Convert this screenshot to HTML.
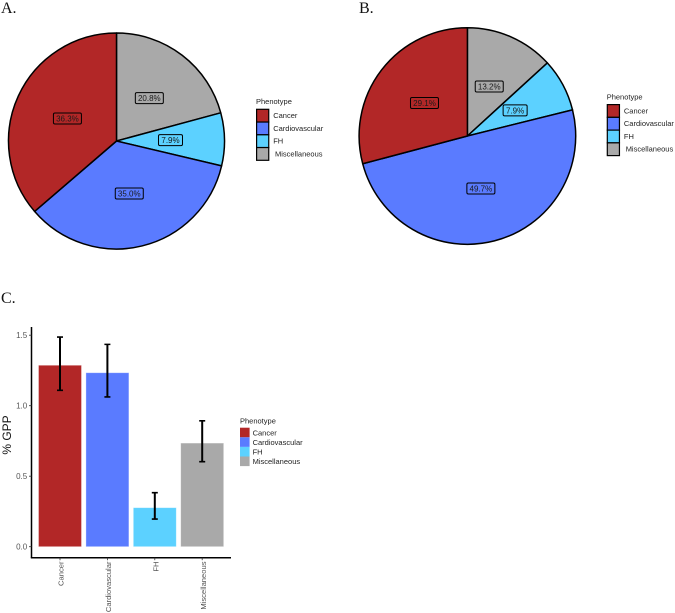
<!DOCTYPE html>
<html lang="en">
<head>
<meta charset="utf-8">
<title>Phenotype charts</title>
<style>
html,body{margin:0;padding:0;background:#fff;}
svg{display:block;filter:blur(0.25px);}
text{font-family:"Liberation Sans",sans-serif;}
.panel{font-family:"Liberation Serif",serif;font-size:16px;fill:#111;}
</style>
</head>
<body>
<svg id="figure" xmlns="http://www.w3.org/2000/svg" width="675" height="613" viewBox="0 0 675 613">
  <text class="panel" x="1" y="13">A.</text>
  <text class="panel" x="359" y="13">B.</text>
  <text class="panel" x="1" y="303">C.</text>
  <g id="pie-a"></g>
  <g id="pie-b"></g>
  <g id="bars"></g>
</svg>
<script>
const categories = ["Cancer", "Cardiovascular", "FH", "Miscellaneous"];
const colors = ["#B22727", "#5A7BFF", "#5CD1FF", "#A9A9A9"];
const pieAValues = [36.3, 35.0, 7.9, 20.8];
const pieBValues = [29.1, 49.7, 7.9, 13.2];
const gppValues = [1.287, 1.234, 0.277, 0.735];
const gppUpper = [1.487, 1.435, 0.383, 0.893];
const gppLower = [1.109, 1.062, 0.196, 0.603];
const yTicks = [0, 0.5, 1.0, 1.5];
const yTickLabels = ["0.0", "0.5", "1.0", "1.5"];
const legendTitle = "Phenotype";
const yAxisTitle = "% GPP";

const NS = "http://www.w3.org/2000/svg";
function make(parent, tag, props, content) {
  const el = document.createElementNS(NS, tag);
  for (const key in props) el.setAttribute(key, props[key]);
  if (content !== undefined) el.textContent = content;
  parent.appendChild(el);
  return el;
}
function slug(s) { return s.toLowerCase().replace(/[^a-z0-9]+/g, "-"); }

function drawPie(root, values, cx, cy, r, suffix) {
  const total = values.reduce((a, b) => a + b, 0);
  const polar = (frac, rad) => {
    const t = frac * 2 * Math.PI;
    return [cx + rad * Math.sin(t), cy - rad * Math.cos(t)];
  };
  // Drawn clockwise from 12 o'clock: last category first.
  let acc = 0;
  const spans = [];
  for (let i = values.length - 1; i >= 0; i--) {
    const f = values[i] / total;
    spans.push({ i: i, a: acc, b: acc + f });
    acc += f;
  }
  spans.forEach(s => {
    const p0 = polar(s.a, r), p1 = polar(s.b, r);
    const large = s.b - s.a > 0.5 ? 1 : 0;
    const d = `M${cx} ${cy}L${p0[0]} ${p0[1]}A${r} ${r} 0 ${large} 1 ${p1[0]} ${p1[1]}Z`;
    const slice = make(root, "path", { d: d, fill: colors[s.i], stroke: "#000", "stroke-width": 1.5, "stroke-linejoin": "round" });
    
    
  });
  spans.forEach(s => {
    const c = polar((s.a + s.b) / 2, r / 2);
    const txt = values[s.i].toFixed(1) + "%";
    const w = txt.length > 4 ? 28 : 24;
    const box = make(root, "rect", { x: c[0] - w / 2, y: c[1] - 5.5, width: w, height: 11, rx: 1.5, fill: colors[s.i], stroke: "#000", "stroke-width": 1 });
    
    
    const label = make(root, "text", { x: c[0], y: c[1] + 2.9, "text-anchor": "middle", "font-size": 8, fill: "#1a1a1a" }, txt);
    
    
  });
}

function drawPieLegend(root, x, y, suffix) {
  const size = 12.75;
  const title = make(root, "text", { x: x, y: y - 4.5, "font-size": 7.5, fill: "#222" }, legendTitle);
  
  
  categories.forEach((name, i) => {
    const sw = make(root, "rect", { x: x + 0.6, y: y + 0.6 + i * size, width: size - 0.6, height: size, fill: colors[i], stroke: "#000", "stroke-width": 1.2 });
    
    
    const off = i === 3 ? 19 : 17.2;
    const t = make(root, "text", { x: x + off, y: y + 9.3 + i * size, "font-size": 7.5, fill: "#222" }, name);
    
    
  });
}

function drawBars(root) {
  const y0 = 546.7, unit = 141;
  const yScale = v => y0 - v * unit;
  const band = 47.4, left = 60, barW = 43;
  const xScale = i => left + i * band;
  const axisLeft = 31.5, axisBottom = 557.7;

  categories.forEach((name, i) => {
    const bar = make(root, "rect", { x: xScale(i) - barW / 2, y: yScale(gppValues[i]), width: barW, height: y0 - yScale(gppValues[i]), fill: colors[i], stroke: "#fff", "stroke-opacity": 0.45, "stroke-width": 0.8 });
    
    
  });
  categories.forEach((name, i) => {
    const cx = xScale(i), hi = yScale(gppUpper[i]), lo = yScale(gppLower[i]);
    const stem = make(root, "path", { d: `M${cx} ${hi}V${lo}`, fill: "none", stroke: "#000", "stroke-width": 2 });
    
    
    const caps = make(root, "path", { d: `M${cx - 3} ${hi}H${cx + 3}M${cx - 3} ${lo}H${cx + 3}`, fill: "none", stroke: "#000", "stroke-width": 1.6 });
    
    
  });

  const yAxis = make(root, "path", { d: `M${axisLeft} 327V${axisBottom}`, stroke: "#000", "stroke-width": 1.5, fill: "none" });
  
  
  const xAxis = make(root, "path", { d: `M${axisLeft - 0.7} ${axisBottom}H231`, stroke: "#000", "stroke-width": 1.5, fill: "none" });
  
  

  yTicks.forEach((v, i) => {
    const tick = make(root, "path", { d: `M${axisLeft - 2.5} ${yScale(v)}H${axisLeft}`, stroke: "#333", "stroke-width": 0.8 });
    
    
    const t = make(root, "text", { x: 27.2, y: yScale(v) + 2.9, "text-anchor": "end", "font-size": 8, fill: "#555" }, yTickLabels[i]);
    
    
  });
  categories.forEach((name, i) => {
    const cx = xScale(i);
    const tick = make(root, "path", { d: `M${cx} ${axisBottom}V${axisBottom + 2.5}`, stroke: "#333", "stroke-width": 0.8 });
    
    
    const t = make(root, "text", { transform: `translate(${cx + 3.6} 561.5) rotate(-90)`, "text-anchor": "end", "font-size": 7.6, fill: "#555" }, name);
    
    
  });

  const yt = make(root, "text", { transform: "translate(11 435) rotate(-90)", "text-anchor": "middle", "font-size": 12, fill: "#111" }, yAxisTitle);
  
  

  const lx = 240, ly = 427.7, size = 9.6;
  const lt = make(root, "text", { x: lx, y: 423.5, "font-size": 7.5, fill: "#222" }, legendTitle);
  
  
  categories.forEach((name, i) => {
    const sw = make(root, "rect", { x: lx, y: ly + i * size, width: size, height: size, fill: colors[i] });
    
    
    const t = make(root, "text", { x: lx + 12.6, y: ly + 7.6 + i * size, "font-size": 7.5, fill: "#222" }, name);
    
    
  });
}

const pieA = document.getElementById("pie-a");
const pieB = document.getElementById("pie-b");
drawPie(pieA, pieAValues, 116.5, 141, 108, "a");
drawPieLegend(pieA, 256, 108.7, "a");
drawPie(pieB, pieBValues, 467.4, 136, 108.3, "b");
drawPieLegend(pieB, 606.7, 104, "b");
drawBars(document.getElementById("bars"));
</script>
</body>
</html>
